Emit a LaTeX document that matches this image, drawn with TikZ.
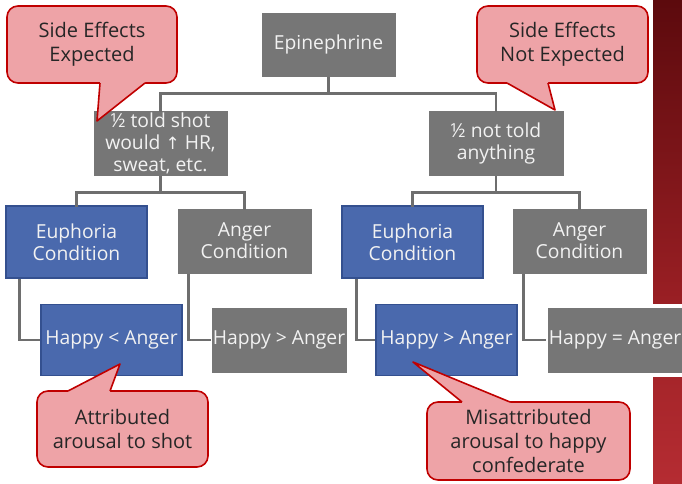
\documentclass[tikz,border=0pt]{standalone}
\usepackage{fontspec}
\setmainfont{Open Sans}
\newfontfamily\symfont{DejaVu Sans}
\usetikzlibrary{calc}
\definecolor{boxgray}{HTML}{767676}
\definecolor{boxblue}{HTML}{4A69AD}
\definecolor{blueedge}{HTML}{34508F}
\definecolor{linegray}{HTML}{6E6E6E}
\definecolor{callfill}{HTML}{EEA3A7}
\definecolor{calledge}{HTML}{C00000}
\definecolor{txtlight}{HTML}{F2F2F2}
\definecolor{redtop}{HTML}{5C0A0D}
\definecolor{redmid}{HTML}{9A1F24}
\definecolor{redmid2}{HTML}{A6252A}
\definecolor{redbot}{HTML}{B52C32}
\begin{document}
\begin{tikzpicture}[x=1pt,y=-1pt,
  graybox/.style={fill=boxgray,draw=white,line width=0.6pt,inner sep=0pt,align=center,text=txtlight,
     font=\fontsize{19.3}{22}\selectfont},
  bluebox/.style={fill=boxblue,draw=blueedge,line width=1.2pt,inner sep=0pt,align=center,text=txtlight,
     font=\fontsize{19.3}{22}\selectfont},
  callbox/.style={fill=callfill,draw=calledge,line width=1.6pt,rounded corners=11pt,inner sep=0pt,align=center,
     text=black!85,font=\fontsize{20}{24}\selectfont},
  conn/.style={draw=linegray,line width=2.6pt},
]
\useasboundingbox (0,0) rectangle (682,484);
% right red strip
\shade[top color=redtop,bottom color=redmid] (653,0) rectangle (682,303);
\shade[top color=redmid2,bottom color=redbot] (653,377) rectangle (682,484);

% boxes
\node[graybox,minimum width=135pt,minimum height=65pt] (epi) at (328.5,44.5) {Epinephrine};
\node[graybox,minimum width=135pt,minimum height=66pt] (half1) at (160.5,143) {½ told shot\\would {\symfont\fontsize{17}{22}\selectfont ↑} HR,\\sweat, etc.};
\node[graybox,minimum width=136pt,minimum height=66pt] (half2) at (496,143) {½ not told\\anything};
\node[bluebox,minimum width=141pt,minimum height=72pt] (euph1) at (76.5,242) {Euphoria\\Condition};
\node[graybox,minimum width=135pt,minimum height=66pt] (ang1) at (244.5,241) {Anger\\Condition};
\node[bluebox,minimum width=141pt,minimum height=71pt] (hap1) at (111.5,340) {Happy < Anger};
\node[graybox,minimum width=136pt,minimum height=66pt] (hap2) at (279,340) {Happy > Anger};
\node[bluebox,minimum width=141pt,minimum height=72pt] (euph2) at (412.5,242) {Euphoria\\Condition};
\node[graybox,minimum width=135pt,minimum height=66pt] (ang2) at (579.5,241) {Anger\\Condition};
\node[bluebox,minimum width=141pt,minimum height=71pt] (hap3) at (446.5,340) {Happy > Anger};
\node[graybox,minimum width=138pt,minimum height=68pt,line width=3pt] (hap4) at (615,340) {Happy = Anger};

% connectors
\draw[conn] (epi.south) -- ++(0,16) -| ([yshift=-2pt]half1.north);
\draw[conn] (epi.south) -- ++(0,16) -| ([yshift=-2pt]half2.north);
\draw[conn] (half1.south) -- ++(0,16) -| ([yshift=-2pt]euph1.north);
\draw[conn] (half1.south) -- ++(0,16) -| ([yshift=-2pt]ang1.north);
\draw[conn] (half2.south) -- ++(0,16) -| ([yshift=-2pt]euph2.north);
\draw[conn] (half2.south) -- ++(0,16) -| ([yshift=-2pt]ang2.north);
\draw[conn] ([xshift=14pt]euph1.south west) |- (hap1.west);
\draw[conn] ([xshift=12pt]ang1.south west) |- (hap2.west);
\draw[conn] ([xshift=15pt]euph2.south west) |- (hap3.west);
\draw[conn] ([xshift=12pt]ang2.south west) |- ([xshift=1.5pt]hap4.west);

% callouts
\node[callbox,minimum width=170pt,minimum height=77pt] (c1) at (92,44.5) {Side Effects\\Expected};
\node[callbox,minimum width=171pt,minimum height=77pt] (c2) at (562.5,44.5) {Side Effects\\Not Expected};
\node[callbox,minimum width=171pt,minimum height=76pt] (c3) at (122.5,429) {Attributed\\arousal to shot};
\node[callbox,minimum width=203pt,minimum height=78pt] (c4) at (528.5,441) {Misattributed\\arousal to happy\\confederate};

\coordinate (t1) at (97,121);
\coordinate (t2) at (555,110);
\coordinate (t3) at (120,364);
\coordinate (t4) at (413,362);

% pointers
\fill[callfill] (100,79) -- (100,83) -- (t1) -- (145,83) -- (145,79) -- cycle;
\draw[calledge,line width=1.6pt,line join=round] (100,83) -- (t1) -- (145,83);
\fill[callfill] (507,79) -- (507,83) -- (t2) -- (548,83) -- (548,79) -- cycle;
\draw[calledge,line width=1.6pt,line join=round] (507,83) -- (t2) -- (548,83);
\fill[callfill] (68,395) -- (68,391) -- (t3) -- (110,391) -- (110,395) -- cycle;
\draw[calledge,line width=1.6pt,line join=round] (68,391) -- (t3) -- (110,391);
\fill[callfill] (462,406) -- (462,402) -- (t4) -- (510,402) -- (510,406) -- cycle;
\draw[calledge,line width=1.6pt,line join=round] (462,402) -- (t4) -- (510,402);
\end{tikzpicture}
\end{document}
